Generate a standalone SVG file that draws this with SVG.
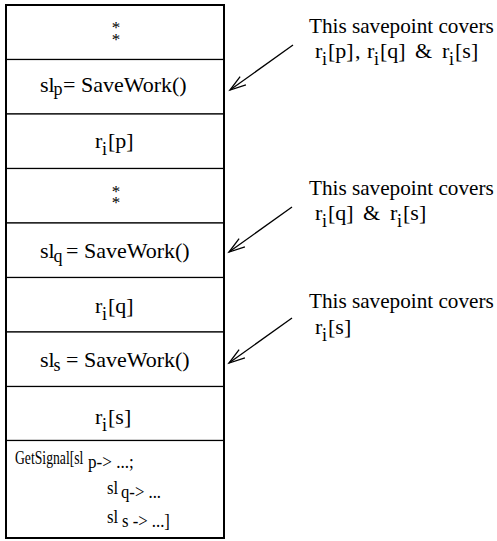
<svg xmlns="http://www.w3.org/2000/svg" width="497" height="541" viewBox="0 0 497 541">
<style>
text { font-family: "Liberation Serif", "Times New Roman", serif; font-size: 22px; fill: #000; }
.sub { font-size: 18px; }
.star { font-size: 17px; }
.sig { font-size: 19px; }
.note { font-size: 21.2px; }
.row { fill: #fff; stroke: #000; stroke-width: 1.2; }
.outer { fill: none; stroke: #000; stroke-width: 2; }
.conn { stroke: #000; stroke-width: 1.3; fill: none; }
</style>
<defs>
<marker id="open" markerUnits="userSpaceOnUse" markerWidth="24" markerHeight="16" refX="0" refY="0" viewBox="-20 -8 24 16" orient="auto" overflow="visible">
<path d="M-16,-5 L0,0 L-16,5" fill="none" stroke="#000" stroke-width="1.3"/>
</marker>
</defs>
<rect width="497" height="541" fill="#fff"/>

<g id="row1"><rect class="row" x="6" y="5" width="218" height="54.5"/>
<text class="star" text-anchor="middle"><tspan x="116" y="33">*</tspan><tspan x="116" y="44.5">*</tspan></text></g>
<g id="row2"><rect class="row" x="6" y="59.5" width="218" height="54.5"/>
<text x="40" y="92">sl<tspan class="sub" x="53.5" y="95">p</tspan><tspan x="63" y="92">= SaveWork()</tspan></text></g>
<g id="row3"><rect class="row" x="6" y="114" width="218" height="54.5"/>
<text x="95" y="148">r<tspan class="sub" x="102" y="155">i</tspan><tspan x="108" y="148">[p]</tspan></text></g>
<g id="row4"><rect class="row" x="6" y="168.5" width="218" height="54.5"/>
<text class="star" text-anchor="middle"><tspan x="116" y="196.5">*</tspan><tspan x="116" y="208">*</tspan></text></g>
<g id="row5"><rect class="row" x="6" y="223" width="218" height="54.5"/>
<text x="40" y="258">sl<tspan class="sub" x="53.5" y="262">q</tspan><tspan x="66" y="258">= SaveWork()</tspan></text></g>
<g id="row6"><rect class="row" x="6" y="277.5" width="218" height="54.5"/>
<text x="95" y="313">r<tspan class="sub" x="102" y="320">i</tspan><tspan x="108" y="313">[q]</tspan></text></g>
<g id="row7"><rect class="row" x="6" y="332" width="218" height="54.5"/>
<text x="40" y="367">sl<tspan class="sub" x="53.5" y="371">s</tspan><tspan x="66" y="367">= SaveWork()</tspan></text></g>
<g id="row8"><rect class="row" x="6" y="386.5" width="218" height="54"/>
<text x="95" y="424">r<tspan class="sub" x="102" y="431">i</tspan><tspan x="108" y="424">[s]</tspan></text></g>
<g id="row9"><rect class="row" x="6" y="440.5" width="218" height="97.5"/>
<text class="sig" transform="translate(15,464) scale(0.72,1)">GetSignal[sl</text>
<text class="sig" transform="translate(88,468) scale(0.9,1)">p-&gt; ...;</text>
<text class="sig" transform="translate(107,494) scale(0.88,1)">sl</text>
<text class="sig" transform="translate(121,498) scale(0.88,1)">q-&gt; ...</text>
<text class="sig" transform="translate(107,523) scale(0.88,1)">sl</text>
<text class="sig" transform="translate(122,527) scale(0.88,1)">s -&gt; ...]</text>
</g>
<rect class="outer" x="6" y="5" width="218" height="533"/>

<g id="note1">
<text class="note" x="309" y="33">This savepoint covers</text>
<text x="315" y="58">r<tspan class="sub" x="322" y="65">i</tspan><tspan x="328" y="58">[p]</tspan><tspan x="355" y="58">,</tspan><tspan x="367" y="58">r</tspan><tspan class="sub" x="374" y="65">i</tspan><tspan x="380" y="58">[q]</tspan><tspan x="415" y="58">&amp;</tspan><tspan x="442" y="58">r</tspan><tspan class="sub" x="449" y="65">i</tspan><tspan x="455" y="58">[s]</tspan></text>
</g>
<g id="note2">
<text class="note" x="309" y="195">This savepoint covers</text>
<text x="315" y="220">r<tspan class="sub" x="322" y="227">i</tspan><tspan x="328" y="220">[q]</tspan><tspan x="363" y="220">&amp;</tspan><tspan x="390" y="220">r</tspan><tspan class="sub" x="397" y="227">i</tspan><tspan x="403" y="220">[s]</tspan></text>
</g>
<g id="note3">
<text class="note" x="309" y="308">This savepoint covers</text>
<text x="315" y="334">r<tspan class="sub" x="322" y="341">i</tspan><tspan x="328" y="334">[s]</tspan></text>
</g>

<g id="connectors">
<line class="conn" x1="293" y1="45" x2="230" y2="90" marker-end="url(#open)"/>
<line class="conn" x1="292" y1="207" x2="229" y2="252" marker-end="url(#open)"/>
<line class="conn" x1="292" y1="318" x2="229" y2="363" marker-end="url(#open)"/>
</g>
</svg>
